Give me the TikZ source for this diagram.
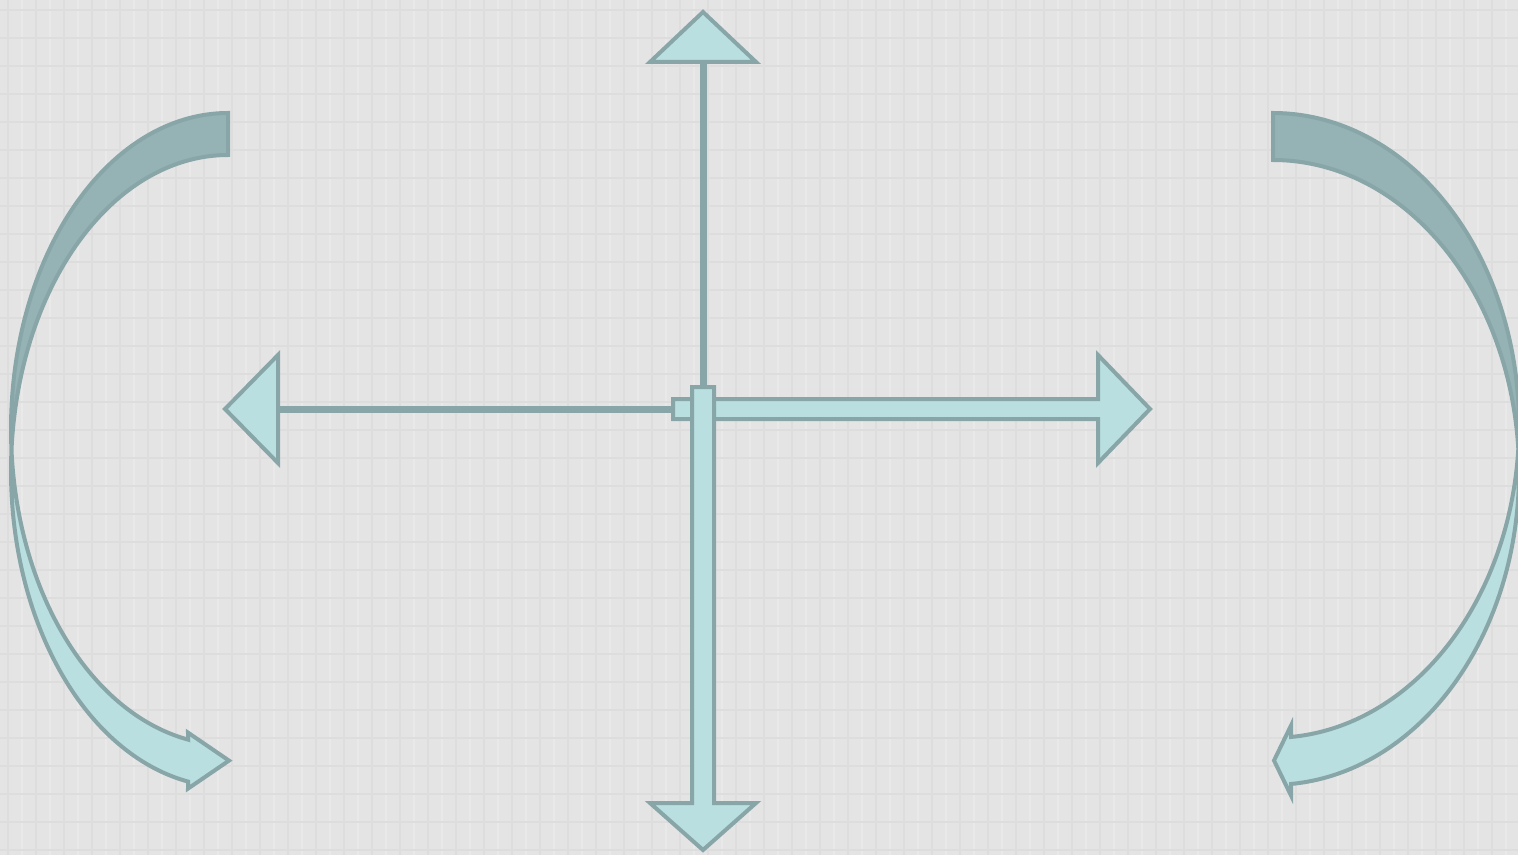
\documentclass[tikz,border=0pt]{standalone}
\definecolor{bg}{HTML}{E4E4E4}
\definecolor{gridc}{HTML}{DDDDDD}
\definecolor{gridl}{HTML}{E9E9E9}
\definecolor{afill}{HTML}{B9DFE1}
\definecolor{aline}{HTML}{88A6A8}
\definecolor{adark}{HTML}{95B3B5}
\begin{document}
\begin{tikzpicture}[x=0.5pt,y=-0.5pt,
  blockarrow/.style={fill=afill,draw=aline,line width=2pt,line join=miter},
  backband/.style={fill=adark,draw=aline,line width=2pt,line join=miter},
  thinshaft/.style={draw=aline,line width=3.5pt},
  gridline/.style={draw=gridc,line width=0.7pt},
  gridlight/.style={draw=gridl,line width=0.7pt}]
\fill[bg] (0,0) rectangle (1518,855);
\useasboundingbox (0,0) rectangle (1518,855);
% background texture
\foreach \x in {8,36,...,1518} \draw[gridline] (\x,0) -- (\x,855);
\foreach \x in {22,50,...,1518} \draw[gridlight] (\x,0) -- (\x,855);
\foreach \y in {10,38,...,855} \draw[gridline] (0,\y) -- (1518,\y);
% named reference points
\coordinate (hub) at (703,409);
\coordinate (uptip) at (703,12);
\coordinate (lefttip) at (225,409);
\coordinate (righttip) at (1150,409);
\coordinate (downtip) at (703,850);
% up arrow
\draw[thinshaft] (703,62) -- (703,387);
\draw[blockarrow] (uptip) -- (756,62) -- (650,62) -- cycle;
% left arrow
\draw[thinshaft] (278,409) -- (673,409);
\draw[blockarrow] (lefttip) -- (278,355) -- (278,463) -- cycle;
% right arrow
\draw[blockarrow] (673,399) -- (1098,399) -- (1098,355) -- (righttip) -- (1098,463) -- (1098,419) -- (673,419) -- cycle;
% down arrow
\draw[blockarrow] (692,387) -- (714,387) -- (714,803) -- (756,803) -- (downtip) -- (650,803) -- (692,803) -- cycle;
% left curved arrow: back band
\draw[backband] plot[domain=270:176.19,samples=90,variable=\t] ({228+217*cos(\t)},{429+316*sin(\t)})
  -- plot[domain=183.81:270,samples=90,variable=\t] ({228+217*cos(\t)},{471+316*sin(\t)}) -- cycle;
% left curved arrow: front band with head
\draw[blockarrow] plot[domain=176.19:100.573,samples=90,variable=\t] ({228+217*cos(\t)},{429+316*sin(\t)})
  -- (188,732.6) -- (229,760.6) -- (188,788.6)
  -- plot[domain=100.573:183.81,samples=90,variable=\t] ({228+217*cos(\t)},{471+316*sin(\t)}) -- cycle;
% right curved arrow: back band
\draw[backband] plot[domain=270:175.686,samples=90,variable=\t] ({1273-246*cos(\t)},{425.4+312.4*sin(\t)})
  -- plot[domain=184.314:270,samples=90,variable=\t] ({1273-246*cos(\t)},{472.4+312.4*sin(\t)}) -- cycle;
% right curved arrow: front band with head
\draw[blockarrow] plot[domain=175.686:94.196,samples=90,variable=\t] ({1273-246*cos(\t)},{425.4+312.4*sin(\t)})
  -- (1291,725.5) -- (1274,760.5) -- (1291,795.5)
  -- plot[domain=94.196:184.314,samples=90,variable=\t] ({1273-246*cos(\t)},{472.4+312.4*sin(\t)}) -- cycle;
\end{tikzpicture}
\end{document}
